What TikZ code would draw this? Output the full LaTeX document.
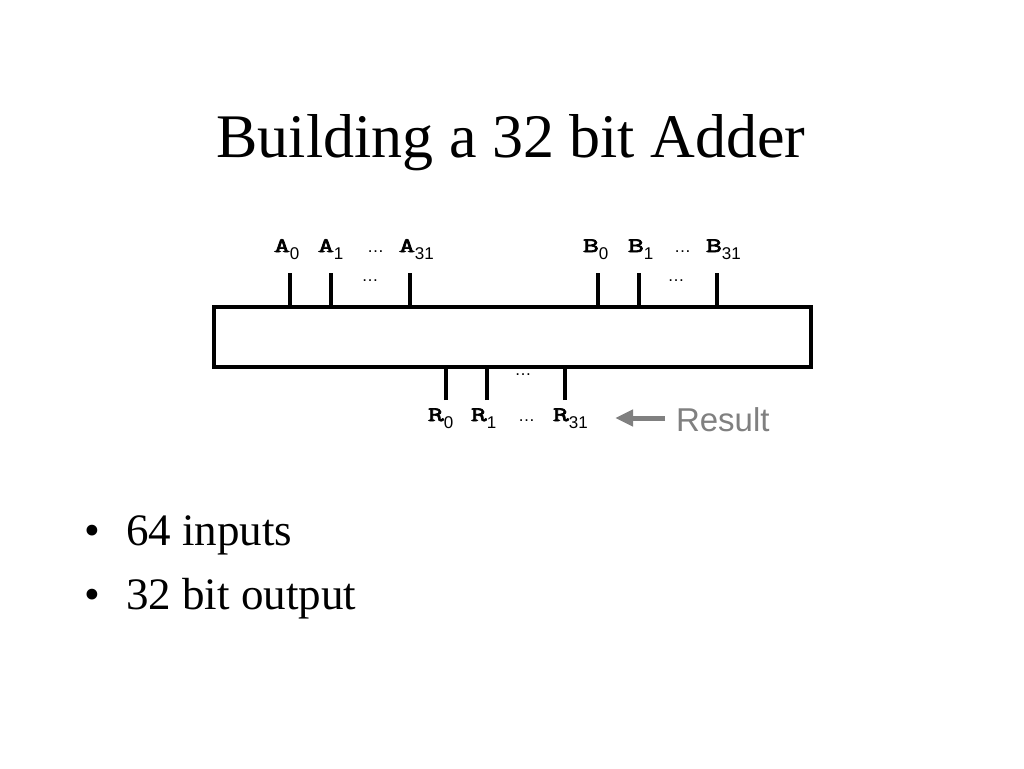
\documentclass[tikz,border=0pt]{standalone}
\usepackage{fontspec}
\setmainfont{Liberation Serif}
\newfontfamily\sansf{Liberation Sans}
\newfontfamily\courf{Latin Modern Mono}[FakeBold=3.5,FakeStretch=1.5]
\usetikzlibrary{arrows.meta}
\definecolor{resgray}{HTML}{808080}
\newcommand{\monolbl}[2]{{\courf\fontsize{20.5}{22}\selectfont #1}\raisebox{-7pt}{\sansf\fontsize{17}{18}\selectfont #2}}
\newcommand{\dotsf}{{\sansf\fontsize{17}{18}\selectfont …}}
\begin{document}
\begin{tikzpicture}[x=1pt,y=-1pt,
  lbl/.style={inner sep=0pt,outer sep=0pt,anchor=base west},
  tick/.style={line width=4pt},
  dotnode/.style={inner sep=0pt,anchor=center}]
\useasboundingbox[fill=white] (0,0) rectangle (1024,768);
% title
\node[inner sep=0pt,anchor=base] (title) at (511,157) {\fontsize{62}{70}\selectfont Building a 32 bit Adder};
% adder box
\node[draw,line width=4pt,inner sep=0pt,outer sep=0pt,minimum width=596.5pt,minimum height=59.5pt] (box) at (512.25,336.75) {};
% top tick end points
\coordinate (ta0) at (290,273);
\coordinate (ta1) at (331,273);
\coordinate (ta31) at (410,273);
\coordinate (tb0) at (598,273);
\coordinate (tb1) at (639,273);
\coordinate (tb31) at (717,273);
\foreach \t in {ta0,ta1,ta31,tb0,tb1,tb31}{
  \draw[tick] (\t) -- (\t |- box.north);
}
% bottom tick end points
\coordinate (tr0) at (446,400);
\coordinate (tr1) at (487,400);
\coordinate (tr31) at (565,400);
\foreach \t in {tr0,tr1,tr31}{
  \draw[tick] (\t) -- (\t |- box.south);
}
% input labels
\node[lbl] (la0) at (274,252) {\monolbl{A}{0}};
\node[lbl] (la1) at (318,252) {\monolbl{A}{1}};
\node[lbl] (lad) at (367,252) {\dotsf};
\node[lbl] (la31) at (399,252) {\monolbl{A}{31}};
\node[lbl] (lb0) at (583,252) {\monolbl{B}{0}};
\node[lbl] (lb1) at (628,252) {\monolbl{B}{1}};
\node[lbl] (lbd) at (674,252) {\dotsf};
\node[lbl] (lb31) at (706,252) {\monolbl{B}{31}};
% dots between ticks
\node[dotnode] (da) at (370,281) {\dotsf};
\node[dotnode] (db) at (676,281) {\dotsf};
\node[dotnode] (dr) at (523,375) {\dotsf};
% result labels
\node[lbl] (lr0) at (428,421) {\monolbl{R}{0}};
\node[lbl] (lr1) at (471,421) {\monolbl{R}{1}};
\node[lbl] (lrd) at (518,421) {\dotsf};
\node[lbl] (lr31) at (553,421) {\monolbl{R}{31}};
% result arrow and text
\node[lbl,text=resgray] (res) at (676,431) {\sansf\fontsize{33}{36}\selectfont Result};
\coordinate (arrs) at (665,418);
\coordinate (arre) at (615,418);
\draw[resgray,line width=5pt,-{Triangle[length=18pt,width=16pt]}] (arrs) -- (arre);
% bullets
\node[lbl] (b1) at (84,545) {\fontsize{45}{50}\selectfont •};
\node[lbl] (t1) at (126,545) {\fontsize{45}{50}\selectfont 64 inputs};
\node[lbl] (b2) at (84,609) {\fontsize{45}{50}\selectfont •};
\node[lbl] (t2) at (126,609) {\fontsize{45}{50}\selectfont 32 bit output};
\end{tikzpicture}
\end{document}
